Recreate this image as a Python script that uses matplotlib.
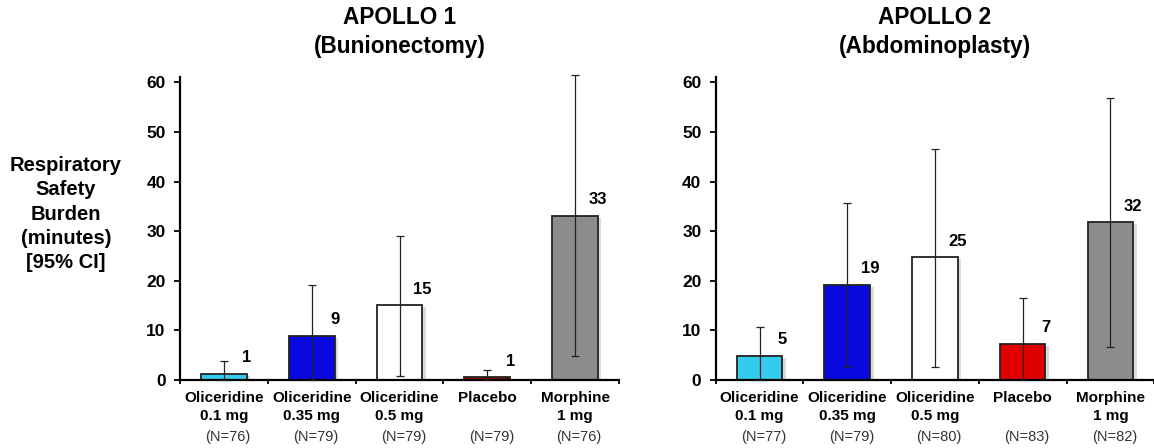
import matplotlib
matplotlib.use("Agg")
import matplotlib.pyplot as plt
import matplotlib.patheffects as pe

plt.rcParams['font.family'] = ['Liberation Sans', 'DejaVu Sans']

# ---------------- data ----------------
categories = [("Oliceridine", "0.1 mg"), ("Oliceridine", "0.35 mg"),
              ("Oliceridine", "0.5 mg"), ("Placebo", ""), ("Morphine", "1 mg")]

titles = ["APOLLO 1\n(Bunionectomy)", "APOLLO 2\n(Abdominoplasty)"]

apollo1_values = [1.3, 8.9, 15.1, 0.6, 33.1]
apollo1_ci_low = [0.0, 0.0, 0.9, 0.0, 4.9]
apollo1_ci_high = [3.9, 19.2, 29.0, 1.95, 61.5]
apollo1_labels = ["1", "9", "15", "1", "33"]
apollo1_n = ["(N=76)", "(N=79)", "(N=79)", "(N=79)", "(N=76)"]

apollo2_values = [4.9, 19.2, 24.8, 7.3, 31.8]
apollo2_ci_low = [0.0, 2.6, 2.6, 0.0, 6.7]
apollo2_ci_high = [10.7, 35.6, 46.5, 16.5, 56.9]
apollo2_labels = ["5", "19", "25", "7", "32"]
apollo2_n = ["(N=77)", "(N=79)", "(N=80)", "(N=83)", "(N=82)"]

colors1 = ["#33CCEE", "#0A0AE0", "#FFFFFF", "#8B0000", "#8C8C8C"]
colors2 = ["#33CCEE", "#0A0AE0", "#FFFFFF", "#E00000", "#8C8C8C"]

ylabel = "Respiratory\nSafety\nBurden\n(minutes)\n[95% CI]"

# ---------------- figure ----------------
W, H = 1154, 448
fig = plt.figure(figsize=(W / 100, H / 100), dpi=100)

ymax = 61.0
px_per_unit = 4.96
ax_h_px = ymax * px_per_unit
bottom_px = 380

axes_specs = [
    (180, 619, apollo1_values, apollo1_ci_low, apollo1_ci_high, apollo1_labels, apollo1_n, colors1, titles[0]),
    (715.7, 1154.2, apollo2_values, apollo2_ci_low, apollo2_ci_high, apollo2_labels, apollo2_n, colors2, titles[1]),
]

def px2pt(p):
    return p * 0.72

for (x0, x1, vals, lo, hi, labs, ns, cols, title) in axes_specs:
    ax = fig.add_axes([x0 / W, 1 - bottom_px / H, (x1 - x0) / W, ax_h_px / H])
    xs = list(range(len(vals)))
    bars = ax.bar(xs, vals, width=0.52, color=cols, edgecolor="#222222",
                  linewidth=1.3, zorder=2)
    for b in bars:
        b.set_path_effects([pe.SimplePatchShadow(offset=(2.5, -1.5), shadow_rgbFace="#888888", alpha=0.3),
                            pe.Normal()])
    yerr = [[v - l for v, l in zip(vals, lo)], [h - v for v, h in zip(vals, hi)]]
    ax.errorbar(xs, vals, yerr=yerr, fmt="none", ecolor="#222222", elinewidth=0.9,
                capsize=3, capthick=0.9, zorder=3, clip_on=False)
    for x, v, t in zip(xs, vals, labs):
        ax.text(x + 0.26, v + 3.2, t, ha="center", va="center", fontsize=12,
                fontweight="bold", color="black", zorder=4)

    ax.set_xlim(-0.5, len(vals) - 0.5)
    ax.set_ylim(0, ymax)
    ax.set_yticks(range(0, 61, 10))
    ax.tick_params(axis="y", direction="out", length=4.3, width=1.3, pad=6,
                   labelsize=12.5)
    for lab in ax.get_yticklabels():
        lab.set_fontweight("bold")
    ax.set_xticks([])
    ax.set_xticks([i - 0.5 for i in range(len(vals) + 1)], minor=True)
    ax.tick_params(axis="x", which="minor", direction="out", length=2.6, width=1.3)
    for s in ["top", "right"]:
        ax.spines[s].set_visible(False)
    for s in ["left", "bottom"]:
        ax.spines[s].set_linewidth(1.6)
    ax.patch.set_alpha(0)

    for x, (l1, l2), n in zip(xs, categories, ns):
        ax.annotate(l1, xy=(x, 0), xycoords=("data", "axes fraction"),
                    xytext=(0, -px2pt(18)), textcoords="offset points",
                    ha="center", va="center", fontsize=11, fontweight="bold")
        if l2:
            ax.annotate(l2, xy=(x, 0), xycoords=("data", "axes fraction"),
                        xytext=(0, -px2pt(36)), textcoords="offset points",
                        ha="center", va="center", fontsize=11, fontweight="bold")
        ax.annotate(n, xy=(x, 0), xycoords=("data", "axes fraction"),
                    xytext=(px2pt(4), -px2pt(56.5)), textcoords="offset points",
                    ha="center", va="center", fontsize=10.5, color="#333333")

    tcx = (x0 + x1) / 2
    fig.text(tcx / W, 1 - 32 / H, title, ha="center", va="center", fontsize=16.3,
             fontweight="bold", linespacing=1.3)

fig.text(66 / W, 1 - 214 / H, ylabel, ha="center", va="center", fontsize=14.5,
         fontweight="bold", linespacing=1.34)

fig.savefig("out.png", dpi=100, facecolor="white")
